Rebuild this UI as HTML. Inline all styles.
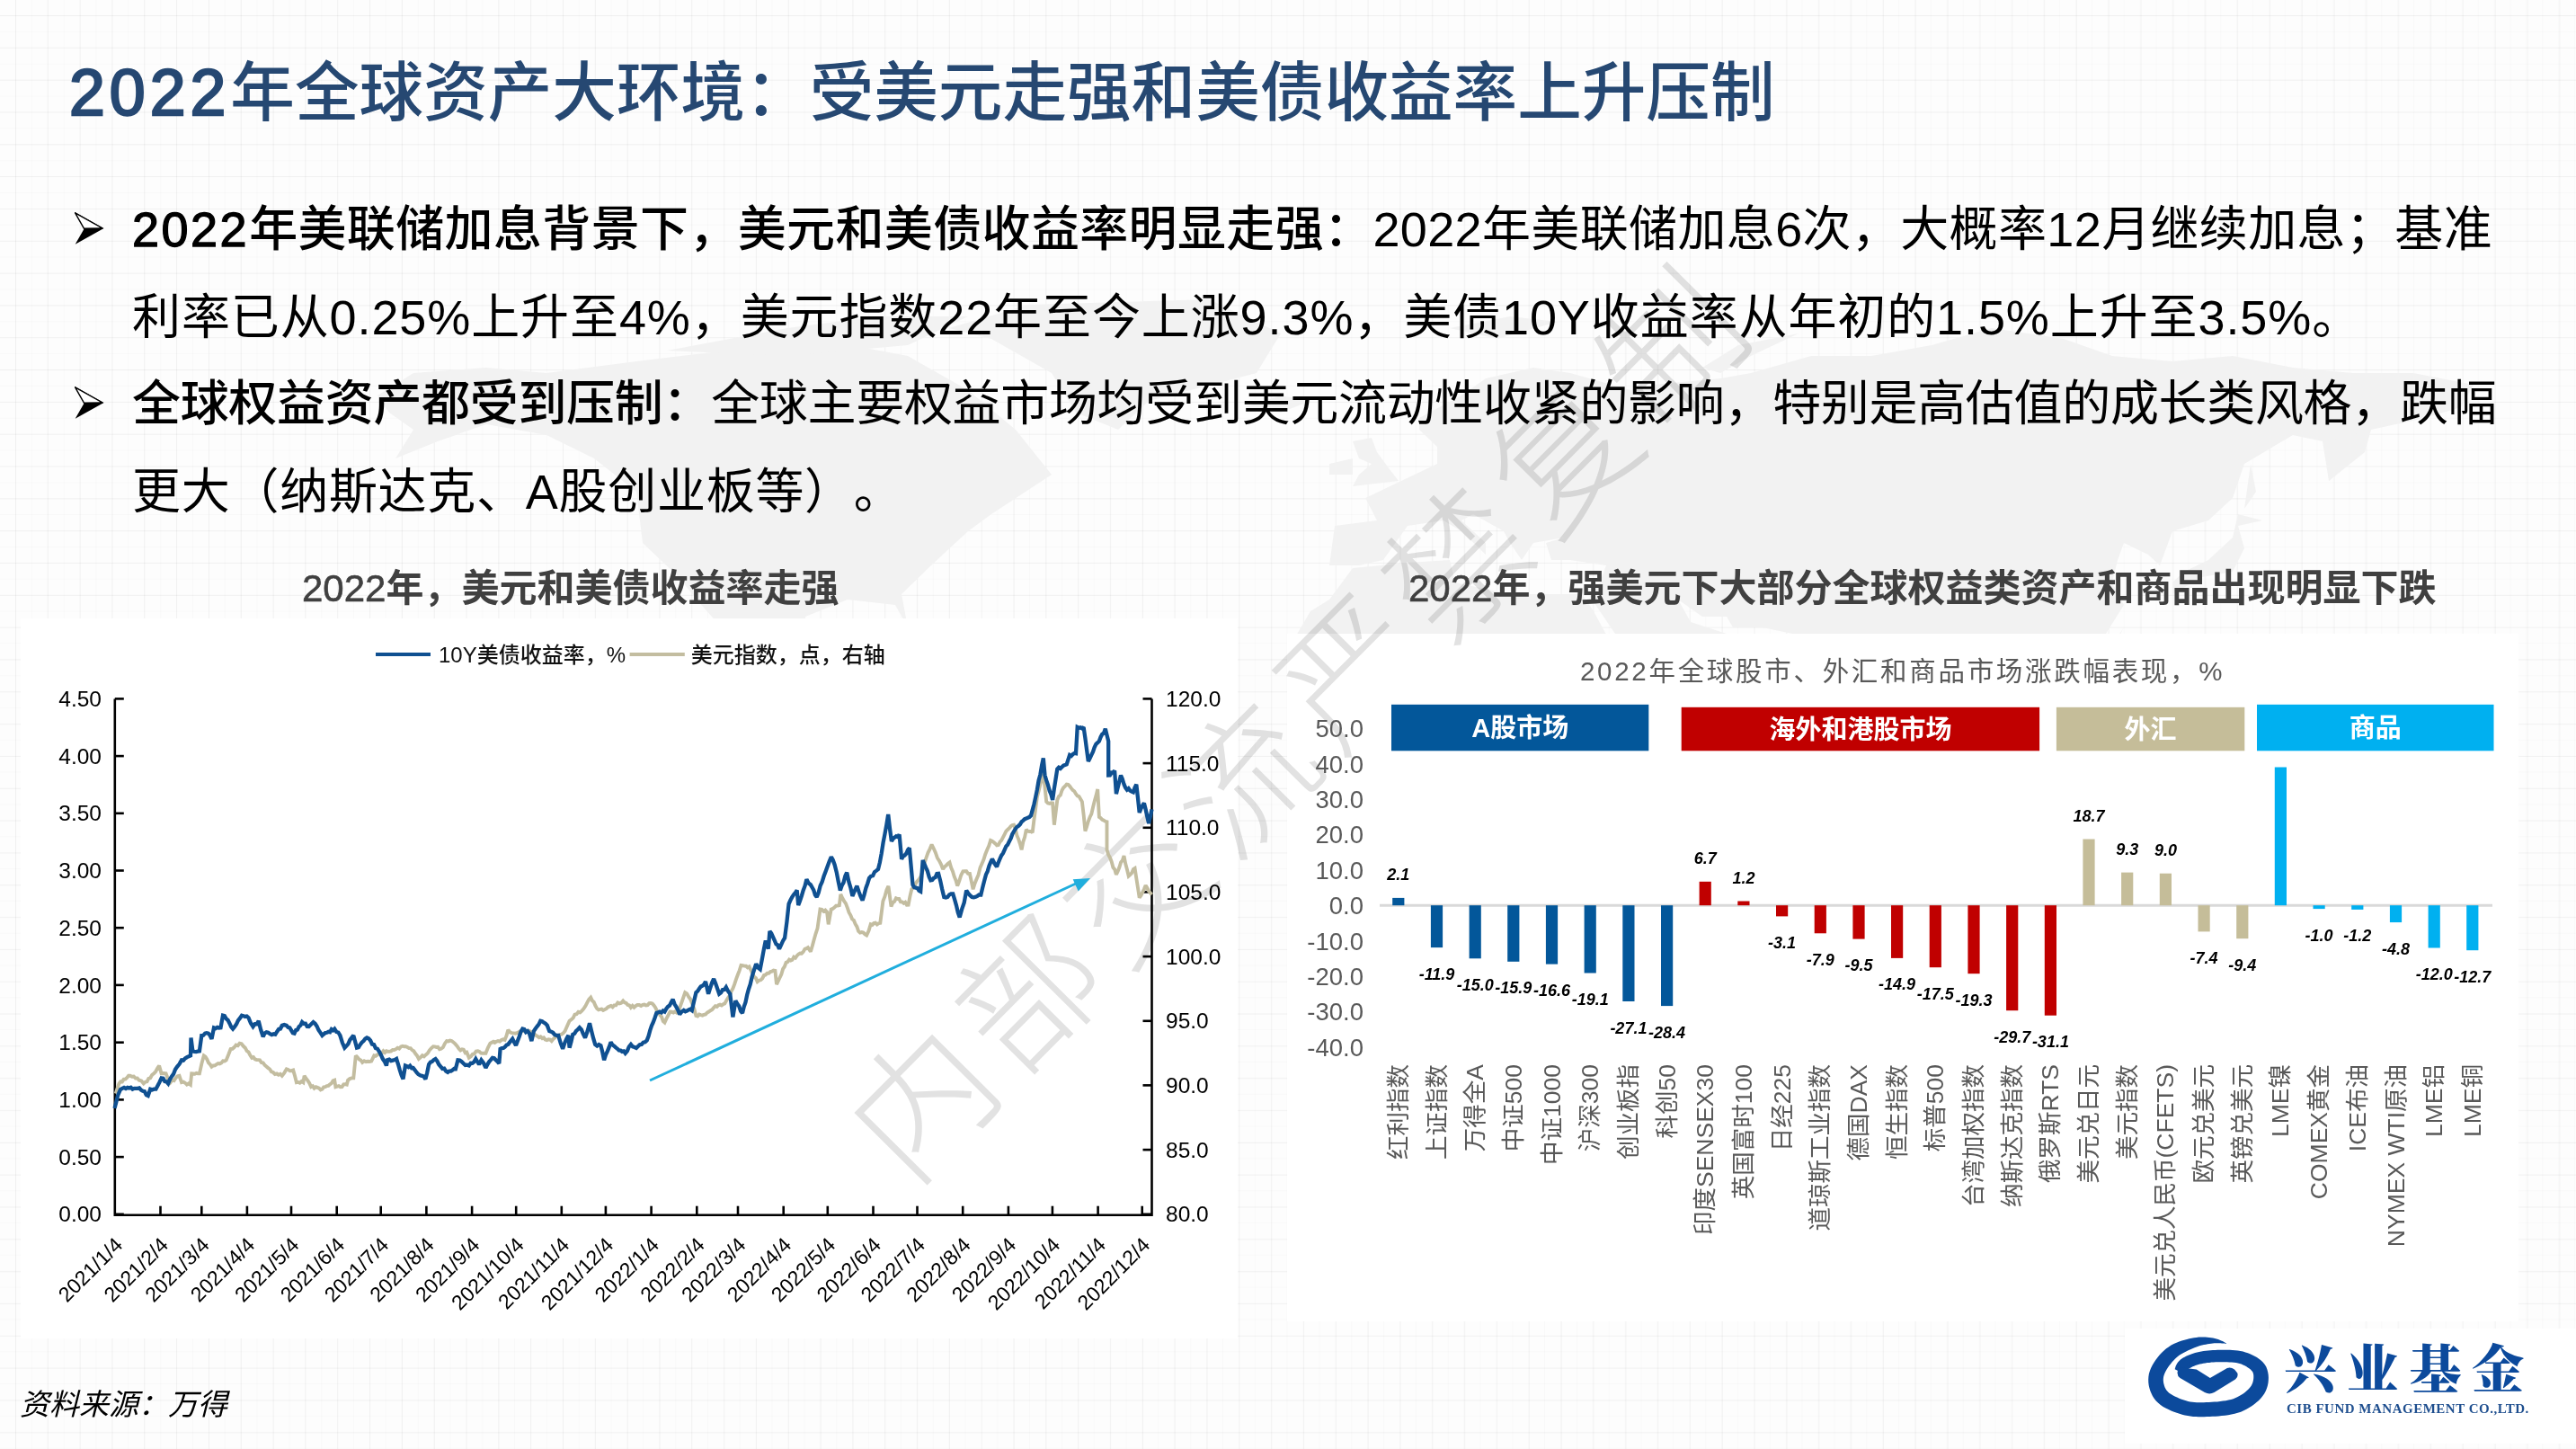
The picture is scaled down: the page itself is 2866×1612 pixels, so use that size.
<!DOCTYPE html>
<html lang="zh-CN"><head><meta charset="utf-8"><title>2022年全球资产大环境</title>
<style>
html,body{margin:0;padding:0;}
body{width:2866px;height:1612px;overflow:hidden;position:relative;
 background-color:#fdfdfd;
 background-image:
  linear-gradient(to right, rgba(0,0,0,0.035) 1px, transparent 1px),
  linear-gradient(to bottom, rgba(0,0,0,0.035) 1px, transparent 1px),
  linear-gradient(to right, rgba(0,0,0,0.015) 1px, transparent 1px),
  linear-gradient(to bottom, rgba(0,0,0,0.015) 1px, transparent 1px);
 background-size:35.83px 35.83px,35.83px 35.83px,17.915px 17.915px,17.915px 17.915px;
 background-position:17px 17px,17px 17px,17px 17px,17px 17px;
 font-family:"Liberation Sans","Noto Sans CJK SC",sans-serif;}
.abs{position:absolute;white-space:nowrap;}
#map{position:absolute;left:0;top:0;}
.panel{position:absolute;background:#fff;}
#title{left:77px;top:55px;font-size:71.6px;line-height:96px;color:#264872;font-weight:500;}
#title .d{font-weight:400;letter-spacing:5px;-webkit-text-stroke:2.4px #264872;}
body{text-spacing-trim:space-all;}
.bl{font-size:54px;line-height:70px;color:#000;left:147px;}
.bl .d{letter-spacing:2.5px;}
.bl b{font-weight:500;}
.bl b .d{font-weight:400;-webkit-text-stroke:1.3px #000;}
.arrow{position:absolute;}
.ctitle{font-size:42px;line-height:50px;color:#404040;font-weight:700;}
.ctitle .d{font-weight:400;-webkit-text-stroke:0.6px #404040;}
svg text{font-family:"Liberation Sans","Noto Sans CJK SC",sans-serif;}
.ax{font-size:24.5px;fill:#000;}
.dx{font-size:23px;fill:#000;}
.lg{font-size:24px;fill:#111;font-weight:500;}
.vl{font-size:18px;fill:#000;font-weight:700;font-style:italic;}
.ct{font-size:26.5px;fill:#595959;}
.ry{font-size:27.5px;fill:#595959;}
.bx{font-size:29px;fill:#fff;font-weight:700;}
.sb{font-size:29.5px;fill:#595959;letter-spacing:2.7px;}
#wm{position:absolute;left:0;top:0;mix-blend-mode:multiply;}
#src{left:22px;top:1543px;font-size:33px;line-height:40px;font-style:italic;color:#000;}
</style></head>
<body>
<svg id="map" width="2866" height="1612" viewBox="0 0 2866 1612"><g fill="#f2f2f2"><path d="M420,440 L460,415 L541,409 L608,415 L708,402 L809,390 L909,377 L1010,396 L1077,434 L1130,478 L1170,528 L1103,572 L1077,591 L1036,629 L1003,661 L1010,698 L996,673 L943,667 L896,686 L896,730 L929,743 L956,755 L990,793 L1023,806 L996,806 L969,780 L929,762 L842,730 L809,705 L775,667 L755,642 L715,604 L708,547 L661,510 L608,484 L541,472 L487,491 L440,510 L460,478 L433,459 L420,440 Z"/><path d="M1056,365 L1144,339 L1345,333 L1425,371 L1398,415 L1278,446 L1244,478 L1197,459 L1170,415 L1103,377 L1056,365 Z"/><path d="M742,390 L876,365 L976,352 L1077,352 L1010,384 L876,396 L742,390 Z"/><path d="M1010,793 L1063,780 L1130,787 L1197,824 L1211,856 L1251,869 L1311,894 L1291,938 L1278,995 L1224,1020 L1190,1064 L1157,1095 L1124,1108 L1110,1140 L1090,1184 L1063,1196 L1050,1158 L1056,1108 L1070,1045 L1077,969 L1036,944 L1003,894 L1010,850 L1023,812 L1010,793 Z"/><path d="M1479,629 L1485,585 L1532,579 L1519,554 L1559,535 L1599,516 L1599,497 L1579,478 L1579,465 L1626,440 L1653,421 L1706,409 L1747,415 L1814,434 L1840,428 L1914,421 L1948,415 L2015,396 L2082,396 L2149,384 L2216,365 L2296,377 L2350,396 L2417,402 L2484,396 L2551,409 L2618,415 L2685,415 L2752,428 L2738,453 L2698,465 L2638,478 L2618,510 L2591,535 L2584,491 L2551,484 L2497,516 L2484,554 L2457,579 L2417,591 L2403,629 L2390,617 L2363,604 L2356,623 L2350,648 L2363,673 L2343,705 L2309,717 L2269,724 L2256,743 L2276,780 L2249,799 L2236,850 L2222,837 L2209,793 L2202,755 L2182,755 L2162,724 L2135,717 L2115,730 L2082,762 L2062,806 L2041,762 L2028,724 L1994,705 L1961,698 L1928,698 L1921,686 L1894,686 L1867,667 L1881,692 L1921,705 L1941,717 L1914,749 L1894,755 L1847,774 L1834,762 L1814,730 L1780,680 L1767,661 L1780,648 L1787,629 L1747,623 L1726,623 L1720,604 L1740,598 L1706,604 L1693,623 L1680,604 L1673,591 L1639,572 L1626,579 L1653,604 L1653,617 L1626,591 L1606,579 L1566,585 L1539,623 L1512,629 L1479,629 Z"/><path d="M1432,724 L1458,680 L1479,667 L1505,632 L1566,626 L1613,623 L1619,648 L1680,661 L1747,661 L1760,661 L1773,680 L1800,730 L1834,780 L1887,780 L1867,824 L1827,869 L1814,919 L1814,957 L1780,995 L1767,1026 L1726,1064 L1680,1076 L1666,1058 L1639,1001 L1626,963 L1633,906 L1606,862 L1606,831 L1572,818 L1519,824 L1492,831 L1458,806 L1432,768 L1432,724 Z"/><path d="M2309,995 L2336,982 L2363,963 L2390,944 L2423,925 L2464,932 L2457,950 L2490,963 L2497,925 L2524,969 L2551,995 L2571,1020 L2571,1058 L2551,1089 L2524,1102 L2490,1095 L2470,1076 L2430,1058 L2376,1070 L2330,1076 L2316,1070 L2309,995 Z"/><path d="M1505,541 L1556,535 L1546,522 L1532,503 L1526,487 L1505,491 L1512,510 L1526,516 L1512,528 L1505,541 Z"/><path d="M1479,528 L1505,528 L1505,510 L1479,516 Z"/><path d="M2417,661 L2450,642 L2484,636 L2497,610 L2490,585 L2517,579 L2490,572 L2484,598 L2457,623 L2430,636 L2417,648 Z"/><path d="M2182,824 L2202,831 L2256,875 L2256,894 L2222,875 L2182,824 Z"/><path d="M2256,894 L2309,906 L2316,910 L2269,906 Z"/><path d="M2276,843 L2323,812 L2343,824 L2330,850 L2323,881 L2283,875 L2276,843 Z"/><path d="M2423,862 L2490,875 L2551,894 L2530,919 L2490,913 L2464,888 L2423,862 Z"/><path d="M1840,1014 L1834,982 L1874,932 L1881,957 L1860,1014 Z"/><path d="M2350,743 L2363,743 L2390,812 L2376,818 L2356,774 Z"/><path d="M2082,818 L2088,806 L2082,796 Z"/><path d="M2698,1070 L2738,1095 L2718,1114 L2691,1133 L2664,1146 L2705,1114 Z"/><path d="M1385,453 L1425,440 L1458,446 L1425,459 Z"/><path d="M1613,365 L1680,352 L1733,358 L1666,377 Z"/><path d="M1894,409 L1934,384 L2001,371 L1948,396 L1914,415 Z"/><path d="M2591,535 L2631,503 L2638,478 L2591,491 Z"/><path d="M2497,566 L2504,516 L2510,547 Z"/><path d="M2350,717 L2363,698 L2356,711 Z"/><path d="M2273,739 L2289,730 L2283,743 Z"/></g></svg>
<div class="panel" style="left:23px;top:688px;width:1354px;height:801px;"></div>
<div class="panel" style="left:1432px;top:705px;width:1370px;height:765px;"></div>
<svg id="wm" width="2866" height="1612" viewBox="0 0 2866 1612">
<text transform="translate(973.9,1284) rotate(-45.2)" font-size="155" font-weight="300" fill="#e2e2e2" dominant-baseline="central" letter-spacing="13.9" style='font-family:"Liberation Sans","Noto Sans CJK SC",sans-serif'>内部交流严禁复制</text>
</svg>

<div id="title" class="abs"><span class="d">2022</span>年全球资产大环境：受美元走强和美债收益率上升压制</div>

<svg class="arrow" style="left:80px;top:234px" width="40" height="40" viewBox="0 0 40 40"><path d="M2.8,1.8 L35.5,20 L3.7,37.8 L13.6,20.6 Z" fill="#000"/><path d="M3.6,2.8 L34,20 L13.4,20.2 Z" fill="#fff" stroke="#000" stroke-width="1.4" stroke-linejoin="round"/></svg>
<svg class="arrow" style="left:80px;top:428px" width="40" height="40" viewBox="0 0 40 40"><path d="M2.8,1.8 L35.5,20 L3.7,37.8 L13.6,20.6 Z" fill="#000"/><path d="M3.6,2.8 L34,20 L13.4,20.2 Z" fill="#fff" stroke="#000" stroke-width="1.4" stroke-linejoin="round"/></svg>

<div id="l1" class="abs bl" style="top:220px;letter-spacing:0.36px"><b><span class="d">2022</span>年美联储加息背景下，美元和美债收益率明显走强：</b>2022年美联储加息6次，大概率12月继续加息；基准</div>
<div id="l2" class="abs bl" style="top:318px;letter-spacing:0.9px">利率已从0.25%上升至4%，美元指数22年至今上涨9.3%，美债10Y收益率从年初的1.5%上升至3.5%。</div>
<div id="l3" class="abs bl" style="top:414px;letter-spacing:-0.32px"><b>全球权益资产都受到压制：</b>全球主要权益市场均受到美元流动性收紧的影响，特别是高估值的成长类风格，跌幅</div>
<div id="l4" class="abs bl" style="top:512px;letter-spacing:0.72px">更大（纳斯达克、A股创业板等）。</div>

<div id="ct1" class="abs ctitle" style="left:336px;top:630px"><span class="d">2022</span>年，美元和美债收益率走强</div>
<div id="ct2" class="abs ctitle" style="left:1567px;top:630px"><span class="d">2022</span>年，强美元下大部分全球权益类资产和商品出现明显下跌</div>

<svg id="charts" style="position:absolute;left:0;top:0" width="2866" height="1612" viewBox="0 0 2866 1612">
<path d="M127.8,777.4 V1351.7 H1281.5 V777.4" fill="none" stroke="#000" stroke-width="2.6"/>
<line x1="127.8" y1="1350.8" x2="137.8" y2="1350.8" stroke="#000" stroke-width="2.6"/>
<text x="113" y="1359.4" text-anchor="end" class="ax">0.00</text>
<line x1="127.8" y1="1287.1" x2="137.8" y2="1287.1" stroke="#000" stroke-width="2.6"/>
<text x="113" y="1295.7" text-anchor="end" class="ax">0.50</text>
<line x1="127.8" y1="1223.4" x2="137.8" y2="1223.4" stroke="#000" stroke-width="2.6"/>
<text x="113" y="1232.0" text-anchor="end" class="ax">1.00</text>
<line x1="127.8" y1="1159.7" x2="137.8" y2="1159.7" stroke="#000" stroke-width="2.6"/>
<text x="113" y="1168.3" text-anchor="end" class="ax">1.50</text>
<line x1="127.8" y1="1095.9" x2="137.8" y2="1095.9" stroke="#000" stroke-width="2.6"/>
<text x="113" y="1104.5" text-anchor="end" class="ax">2.00</text>
<line x1="127.8" y1="1032.2" x2="137.8" y2="1032.2" stroke="#000" stroke-width="2.6"/>
<text x="113" y="1040.8" text-anchor="end" class="ax">2.50</text>
<line x1="127.8" y1="968.5" x2="137.8" y2="968.5" stroke="#000" stroke-width="2.6"/>
<text x="113" y="977.1" text-anchor="end" class="ax">3.00</text>
<line x1="127.8" y1="904.8" x2="137.8" y2="904.8" stroke="#000" stroke-width="2.6"/>
<text x="113" y="913.4" text-anchor="end" class="ax">3.50</text>
<line x1="127.8" y1="841.1" x2="137.8" y2="841.1" stroke="#000" stroke-width="2.6"/>
<text x="113" y="849.7" text-anchor="end" class="ax">4.00</text>
<line x1="127.8" y1="777.4" x2="137.8" y2="777.4" stroke="#000" stroke-width="2.6"/>
<text x="113" y="786.0" text-anchor="end" class="ax">4.50</text>
<line x1="1281.5" y1="1350.8" x2="1271.5" y2="1350.8" stroke="#000" stroke-width="2.6"/>
<text x="1297" y="1359.4" class="ax">80.0</text>
<line x1="1281.5" y1="1279.1" x2="1271.5" y2="1279.1" stroke="#000" stroke-width="2.6"/>
<text x="1297" y="1287.7" class="ax">85.0</text>
<line x1="1281.5" y1="1207.4" x2="1271.5" y2="1207.4" stroke="#000" stroke-width="2.6"/>
<text x="1297" y="1216.0" class="ax">90.0</text>
<line x1="1281.5" y1="1135.8" x2="1271.5" y2="1135.8" stroke="#000" stroke-width="2.6"/>
<text x="1297" y="1144.4" class="ax">95.0</text>
<line x1="1281.5" y1="1064.1" x2="1271.5" y2="1064.1" stroke="#000" stroke-width="2.6"/>
<text x="1297" y="1072.7" class="ax">100.0</text>
<line x1="1281.5" y1="992.4" x2="1271.5" y2="992.4" stroke="#000" stroke-width="2.6"/>
<text x="1297" y="1001.0" class="ax">105.0</text>
<line x1="1281.5" y1="920.8" x2="1271.5" y2="920.8" stroke="#000" stroke-width="2.6"/>
<text x="1297" y="929.4" class="ax">110.0</text>
<line x1="1281.5" y1="849.1" x2="1271.5" y2="849.1" stroke="#000" stroke-width="2.6"/>
<text x="1297" y="857.7" class="ax">115.0</text>
<line x1="1281.5" y1="777.4" x2="1271.5" y2="777.4" stroke="#000" stroke-width="2.6"/>
<text x="1297" y="786.0" class="ax">120.0</text>
<text transform="translate(137.8,1386.5) rotate(-45)" text-anchor="end" class="dx">2021/1/4</text>
<line x1="178.5" y1="1351.7" x2="178.5" y2="1341.7" stroke="#000" stroke-width="2.6"/>
<text transform="translate(188.5,1386.5) rotate(-45)" text-anchor="end" class="dx">2021/2/4</text>
<line x1="224.3" y1="1351.7" x2="224.3" y2="1341.7" stroke="#000" stroke-width="2.6"/>
<text transform="translate(234.3,1386.5) rotate(-45)" text-anchor="end" class="dx">2021/3/4</text>
<line x1="274.9" y1="1351.7" x2="274.9" y2="1341.7" stroke="#000" stroke-width="2.6"/>
<text transform="translate(284.9,1386.5) rotate(-45)" text-anchor="end" class="dx">2021/4/4</text>
<line x1="324.0" y1="1351.7" x2="324.0" y2="1341.7" stroke="#000" stroke-width="2.6"/>
<text transform="translate(334.0,1386.5) rotate(-45)" text-anchor="end" class="dx">2021/5/4</text>
<line x1="374.7" y1="1351.7" x2="374.7" y2="1341.7" stroke="#000" stroke-width="2.6"/>
<text transform="translate(384.7,1386.5) rotate(-45)" text-anchor="end" class="dx">2021/6/4</text>
<line x1="423.7" y1="1351.7" x2="423.7" y2="1341.7" stroke="#000" stroke-width="2.6"/>
<text transform="translate(433.7,1386.5) rotate(-45)" text-anchor="end" class="dx">2021/7/4</text>
<line x1="474.4" y1="1351.7" x2="474.4" y2="1341.7" stroke="#000" stroke-width="2.6"/>
<text transform="translate(484.4,1386.5) rotate(-45)" text-anchor="end" class="dx">2021/8/4</text>
<line x1="525.1" y1="1351.7" x2="525.1" y2="1341.7" stroke="#000" stroke-width="2.6"/>
<text transform="translate(535.1,1386.5) rotate(-45)" text-anchor="end" class="dx">2021/9/4</text>
<line x1="574.2" y1="1351.7" x2="574.2" y2="1341.7" stroke="#000" stroke-width="2.6"/>
<text transform="translate(584.2,1386.5) rotate(-45)" text-anchor="end" class="dx">2021/10/4</text>
<line x1="624.8" y1="1351.7" x2="624.8" y2="1341.7" stroke="#000" stroke-width="2.6"/>
<text transform="translate(634.8,1386.5) rotate(-45)" text-anchor="end" class="dx">2021/11/4</text>
<line x1="673.9" y1="1351.7" x2="673.9" y2="1341.7" stroke="#000" stroke-width="2.6"/>
<text transform="translate(683.9,1386.5) rotate(-45)" text-anchor="end" class="dx">2021/12/4</text>
<line x1="724.6" y1="1351.7" x2="724.6" y2="1341.7" stroke="#000" stroke-width="2.6"/>
<text transform="translate(734.6,1386.5) rotate(-45)" text-anchor="end" class="dx">2022/1/4</text>
<line x1="775.3" y1="1351.7" x2="775.3" y2="1341.7" stroke="#000" stroke-width="2.6"/>
<text transform="translate(785.3,1386.5) rotate(-45)" text-anchor="end" class="dx">2022/2/4</text>
<line x1="821.0" y1="1351.7" x2="821.0" y2="1341.7" stroke="#000" stroke-width="2.6"/>
<text transform="translate(831.0,1386.5) rotate(-45)" text-anchor="end" class="dx">2022/3/4</text>
<line x1="871.7" y1="1351.7" x2="871.7" y2="1341.7" stroke="#000" stroke-width="2.6"/>
<text transform="translate(881.7,1386.5) rotate(-45)" text-anchor="end" class="dx">2022/4/4</text>
<line x1="920.8" y1="1351.7" x2="920.8" y2="1341.7" stroke="#000" stroke-width="2.6"/>
<text transform="translate(930.8,1386.5) rotate(-45)" text-anchor="end" class="dx">2022/5/4</text>
<line x1="971.5" y1="1351.7" x2="971.5" y2="1341.7" stroke="#000" stroke-width="2.6"/>
<text transform="translate(981.5,1386.5) rotate(-45)" text-anchor="end" class="dx">2022/6/4</text>
<line x1="1020.5" y1="1351.7" x2="1020.5" y2="1341.7" stroke="#000" stroke-width="2.6"/>
<text transform="translate(1030.5,1386.5) rotate(-45)" text-anchor="end" class="dx">2022/7/4</text>
<line x1="1071.2" y1="1351.7" x2="1071.2" y2="1341.7" stroke="#000" stroke-width="2.6"/>
<text transform="translate(1081.2,1386.5) rotate(-45)" text-anchor="end" class="dx">2022/8/4</text>
<line x1="1121.9" y1="1351.7" x2="1121.9" y2="1341.7" stroke="#000" stroke-width="2.6"/>
<text transform="translate(1131.9,1386.5) rotate(-45)" text-anchor="end" class="dx">2022/9/4</text>
<line x1="1170.9" y1="1351.7" x2="1170.9" y2="1341.7" stroke="#000" stroke-width="2.6"/>
<text transform="translate(1180.9,1386.5) rotate(-45)" text-anchor="end" class="dx">2022/10/4</text>
<line x1="1221.6" y1="1351.7" x2="1221.6" y2="1341.7" stroke="#000" stroke-width="2.6"/>
<text transform="translate(1231.6,1386.5) rotate(-45)" text-anchor="end" class="dx">2022/11/4</text>
<line x1="1270.7" y1="1351.7" x2="1270.7" y2="1341.7" stroke="#000" stroke-width="2.6"/>
<text transform="translate(1280.7,1386.5) rotate(-45)" text-anchor="end" class="dx">2022/12/4</text>
<path d="M128.7,1216.6 L130.6,1210.6 L132.4,1205.5 L134.2,1203.3 L135.9,1203.4 L137.7,1200.6 L139.5,1200.6 L141.3,1198.9 L143.0,1196.8 L144.8,1196.8 L146.8,1197.8 L148.8,1197.5 L150.8,1199.6 L152.8,1199.5 L154.8,1201.7 L157.3,1202.5 L159.8,1205.5 L161.7,1203.7 L163.5,1203.3 L165.3,1199.8 L167.2,1199.3 L169.2,1195.8 L171.2,1194.2 L173.1,1192.3 L175.1,1188.6 L177.1,1185.6 L179.6,1194.3 L182.1,1194.0 L184.6,1194.3 L187.1,1200.6 L189.6,1204.2 L191.6,1201.5 L193.6,1202.2 L195.5,1199.2 L197.5,1197.3 L199.5,1196.8 L202.0,1204.2 L204.0,1203.6 L206.0,1204.7 L207.9,1206.6 L209.9,1205.3 L211.9,1206.7 L213.2,1194.3 L214.9,1194.5 L216.7,1194.7 L218.4,1193.9 L220.2,1194.4 L221.9,1194.3 L224.4,1183.1 L226.8,1174.4 L228.5,1175.6 L230.3,1178.5 L232.0,1182.3 L233.8,1184.1 L235.5,1186.8 L237.3,1185.5 L239.1,1185.4 L240.9,1184.2 L242.7,1183.0 L244.5,1183.5 L246.3,1182.4 L248.1,1180.3 L249.9,1180.4 L251.7,1179.4 L254.2,1173.3 L256.6,1167.0 L258.6,1166.8 L260.6,1165.1 L262.6,1162.6 L264.6,1163.3 L266.6,1160.7 L268.7,1161.3 L270.7,1163.8 L272.8,1165.7 L274.6,1169.2 L276.5,1170.3 L278.4,1174.1 L280.2,1176.9 L282.0,1176.1 L283.7,1178.4 L285.5,1179.1 L287.2,1179.1 L289.0,1179.4 L290.9,1182.2 L292.7,1182.3 L294.6,1185.0 L296.4,1186.5 L298.3,1188.1 L300.2,1189.5 L302.0,1192.3 L303.9,1193.0 L305.9,1195.0 L307.9,1194.4 L309.8,1195.7 L311.8,1194.8 L313.8,1196.8 L316.3,1193.6 L318.8,1189.3 L320.6,1190.0 L322.5,1191.3 L324.4,1191.2 L326.2,1190.6 L328.0,1196.8 L329.9,1204.2 L331.8,1203.9 L333.6,1204.7 L335.5,1202.9 L337.4,1204.2 L338.6,1196.8 L340.5,1199.8 L342.4,1202.1 L344.2,1205.0 L346.1,1209.2 L347.9,1208.3 L349.6,1210.7 L351.4,1209.2 L353.2,1209.9 L355.0,1210.7 L356.7,1212.4 L358.5,1211.7 L360.2,1209.3 L361.9,1209.1 L363.6,1208.1 L365.4,1207.8 L367.1,1206.3 L368.8,1205.2 L370.5,1202.3 L372.2,1201.7 L373.4,1209.2 L375.2,1208.6 L376.9,1208.1 L378.7,1209.2 L380.5,1209.1 L382.3,1206.4 L384.0,1206.2 L385.8,1206.7 L387.1,1201.7 L389.2,1200.1 L391.2,1199.4 L393.3,1199.3 L395.8,1174.4 L397.6,1176.2 L399.5,1178.4 L401.4,1179.4 L403.2,1181.9 L405.2,1180.3 L407.2,1181.2 L409.2,1180.8 L411.2,1181.0 L413.2,1180.6 L416.2,1174.3 L417.9,1174.9 L419.6,1173.6 L421.3,1172.5 L423.0,1172.1 L424.8,1171.7 L426.5,1169.3 L428.2,1171.0 L429.9,1169.3 L431.6,1169.8 L433.4,1169.9 L435.1,1169.4 L436.9,1168.0 L438.6,1168.1 L440.5,1167.2 L442.3,1165.7 L444.2,1166.6 L446.1,1164.3 L447.9,1163.7 L449.8,1164.3 L451.5,1164.2 L453.2,1164.9 L455.0,1166.1 L456.7,1166.1 L458.4,1168.1 L460.3,1169.2 L462.1,1172.1 L464.0,1174.4 L465.9,1178.0 L467.9,1176.4 L469.9,1174.2 L471.8,1175.3 L473.8,1173.4 L475.8,1171.8 L477.9,1168.3 L479.9,1166.1 L482.0,1164.3 L483.7,1164.4 L485.5,1164.9 L487.2,1164.7 L489.0,1167.3 L490.7,1166.8 L492.8,1165.3 L494.9,1160.9 L497.0,1158.1 L498.9,1158.4 L500.7,1157.6 L502.5,1158.0 L504.4,1159.4 L506.5,1161.4 L508.5,1163.7 L510.6,1166.8 L512.3,1168.5 L514.1,1167.4 L515.8,1167.7 L517.6,1171.1 L519.3,1170.6 L521.8,1176.8 L523.8,1175.4 L525.8,1172.8 L527.7,1172.4 L529.7,1169.5 L531.7,1169.3 L533.4,1169.9 L535.2,1171.6 L536.9,1171.8 L538.7,1171.8 L540.4,1171.8 L542.9,1165.5 L545.4,1160.6 L547.1,1159.7 L548.9,1158.7 L550.6,1159.9 L552.4,1158.7 L554.1,1158.1 L556.0,1158.6 L557.9,1157.0 L559.7,1156.4 L561.6,1156.9 L563.5,1152.2 L565.3,1145.7 L567.4,1148.3 L569.4,1149.2 L571.5,1149.4 L573.4,1149.7 L575.2,1149.1 L577.1,1148.3 L579.0,1147.0 L580.9,1146.2 L582.7,1147.0 L584.5,1146.6 L586.4,1147.0 L588.4,1146.7 L590.4,1147.6 L592.3,1149.3 L594.3,1150.2 L596.3,1151.9 L598.0,1152.9 L599.8,1154.2 L601.5,1153.3 L603.3,1155.1 L605.0,1154.4 L606.7,1156.5 L608.5,1157.2 L610.2,1156.2 L612.0,1156.6 L613.7,1158.1 L615.6,1155.8 L617.5,1154.2 L619.3,1152.6 L621.2,1151.9 L623.1,1151.0 L624.9,1150.6 L626.8,1149.2 L628.6,1147.0 L631.1,1141.3 L633.6,1135.8 L635.6,1134.2 L637.6,1132.6 L639.5,1128.6 L641.5,1128.2 L643.5,1125.8 L645.4,1126.3 L647.3,1124.6 L649.3,1122.4 L651.3,1119.3 L653.2,1115.6 L655.2,1111.8 L657.2,1109.7 L658.9,1113.2 L660.7,1114.7 L662.4,1118.8 L664.2,1122.0 L665.9,1123.4 L667.6,1122.8 L669.4,1122.6 L671.1,1123.9 L672.9,1123.0 L674.6,1122.1 L676.3,1120.4 L678.1,1119.6 L679.8,1118.9 L681.6,1120.3 L683.3,1118.4 L685.3,1118.3 L687.3,1115.4 L689.2,1116.3 L691.2,1115.7 L693.2,1113.4 L694.9,1115.3 L696.7,1116.0 L698.4,1118.0 L700.2,1118.4 L701.9,1120.9 L703.7,1118.8 L705.5,1120.7 L707.3,1119.1 L709.1,1117.9 L711.1,1118.0 L713.2,1119.1 L715.2,1117.9 L717.0,1117.5 L718.7,1118.4 L720.5,1118.1 L722.3,1116.1 L724.0,1116.0 L725.8,1116.4 L727.5,1118.5 L729.2,1121.0 L730.9,1124.6 L732.6,1126.3 L734.4,1129.4 L736.1,1131.3 L737.8,1136.1 L739.5,1137.6 L741.5,1133.2 L743.5,1129.4 L745.5,1125.5 L747.3,1125.7 L749.2,1126.6 L751.0,1125.3 L752.9,1126.7 L754.7,1125.5 L756.6,1120.2 L758.5,1114.9 L760.3,1109.6 L762.2,1104.2 L764.2,1105.4 L766.3,1109.1 L768.3,1111.8 L770.3,1117.0 L772.4,1122.5 L774.4,1130.0 L776.2,1130.6 L777.9,1128.6 L779.7,1129.2 L781.5,1129.6 L783.2,1128.9 L785.0,1128.5 L786.8,1126.5 L788.6,1125.6 L790.5,1124.2 L792.3,1123.3 L794.1,1121.0 L795.8,1119.2 L797.6,1119.9 L799.3,1118.3 L801.1,1117.7 L802.8,1118.5 L804.6,1117.1 L806.3,1116.4 L808.1,1113.2 L809.9,1110.4 L811.8,1107.5 L813.6,1102.9 L815.4,1099.7 L817.2,1094.9 L819.0,1089.4 L820.9,1084.3 L822.7,1079.6 L824.5,1073.9 L826.3,1074.1 L828.1,1074.6 L830.0,1074.7 L831.8,1076.3 L833.6,1075.4 L835.4,1079.3 L837.2,1083.1 L839.1,1086.7 L840.9,1088.1 L842.7,1092.1 L844.5,1090.7 L846.3,1090.3 L848.2,1088.5 L850.0,1085.0 L851.8,1084.5 L853.6,1082.7 L855.3,1082.8 L857.1,1081.0 L858.9,1080.7 L860.6,1079.5 L862.4,1079.9 L864.0,1095.1 L865.8,1091.5 L867.5,1087.8 L869.3,1084.1 L871.1,1077.9 L872.8,1075.5 L874.6,1070.8 L876.3,1070.2 L878.1,1067.6 L879.8,1068.6 L881.5,1067.8 L883.2,1064.6 L885.0,1065.6 L886.7,1063.2 L888.4,1061.6 L890.2,1060.6 L891.9,1060.7 L893.7,1058.9 L895.4,1055.8 L897.2,1055.2 L898.9,1054.1 L901.9,1058.7 L903.8,1052.3 L905.7,1045.3 L907.6,1038.5 L909.5,1032.9 L912.5,1011.6 L914.4,1011.9 L916.3,1013.8 L918.2,1012.6 L920.1,1014.7 L921.7,1028.3 L924.7,1011.6 L926.5,1010.9 L928.3,1009.6 L930.2,1007.6 L932.0,1007.5 L933.8,1007.1 L935.3,994.9 L937.2,999.0 L939.1,1002.5 L941.0,1005.1 L942.9,1010.1 L944.6,1015.1 L946.4,1018.3 L948.1,1022.5 L949.9,1023.7 L951.6,1027.9 L953.4,1030.9 L955.1,1035.9 L956.9,1037.6 L958.7,1037.1 L960.6,1037.6 L962.4,1039.4 L964.2,1040.5 L966.5,1035.6 L968.7,1028.3 L970.5,1028.9 L972.2,1027.1 L974.0,1026.6 L975.8,1028.5 L977.5,1027.2 L979.3,1026.8 L982.4,1002.5 L984.4,997.5 L986.4,990.2 L988.4,985.8 L991.5,1008.6 L993.3,1004.3 L995.1,1002.9 L996.9,999.3 L998.6,1000.0 L1000.3,1000.0 L1002.0,1003.3 L1003.8,1003.4 L1005.5,1004.8 L1007.2,1003.7 L1008.9,1006.8 L1010.6,1006.7 L1012.5,996.8 L1014.3,989.3 L1016.3,987.6 L1018.3,983.7 L1020.2,980.7 L1022.2,978.6 L1024.2,975.7 L1026.3,969.8 L1028.3,960.9 L1030.4,954.5 L1032.5,948.5 L1034.5,944.6 L1036.6,939.6 L1038.7,943.8 L1040.8,948.4 L1042.9,954.5 L1045.0,957.7 L1047.0,961.6 L1049.1,967.0 L1050.9,964.3 L1052.8,962.7 L1054.7,960.8 L1056.5,959.5 L1058.2,965.4 L1060.0,969.4 L1061.7,975.2 L1063.5,979.5 L1065.2,985.6 L1067.3,979.8 L1069.3,973.5 L1071.4,969.4 L1073.3,969.3 L1075.2,969.3 L1077.0,971.9 L1078.9,971.9 L1080.8,980.7 L1082.6,989.3 L1084.6,982.7 L1086.6,977.8 L1088.5,973.4 L1090.5,965.3 L1092.5,960.7 L1094.4,956.4 L1096.3,950.2 L1098.3,945.2 L1100.2,941.0 L1102.1,934.9 L1103.8,935.6 L1105.6,937.0 L1107.3,938.5 L1109.1,940.4 L1110.8,940.1 L1112.5,936.6 L1114.2,934.8 L1116.0,931.4 L1117.7,928.1 L1119.4,924.6 L1121.1,923.0 L1122.8,921.4 L1124.6,919.2 L1126.3,918.0 L1128.0,917.7 L1129.7,922.0 L1131.4,929.4 L1133.2,933.6 L1134.9,938.8 L1136.6,945.3 L1138.3,936.6 L1140.1,931.3 L1141.8,922.8 L1143.5,924.7 L1145.2,925.0 L1147.0,924.8 L1148.7,926.3 L1150.4,912.3 L1152.2,899.3 L1153.9,886.6 L1155.6,880.0 L1157.3,872.7 L1159.1,867.0 L1160.8,860.7 L1162.5,875.6 L1164.2,891.8 L1165.9,893.5 L1167.7,894.0 L1169.4,893.2 L1171.1,893.5 L1172.9,917.7 L1176.3,890.0 L1178.0,885.9 L1179.8,884.5 L1181.5,879.2 L1183.2,876.3 L1184.9,874.7 L1186.7,872.6 L1188.4,872.8 L1190.1,874.5 L1191.8,876.9 L1193.6,879.0 L1195.3,880.3 L1197.0,883.2 L1198.7,885.4 L1200.5,886.1 L1202.2,889.0 L1203.9,891.8 L1205.7,907.1 L1207.4,924.6 L1209.1,919.6 L1210.8,913.8 L1212.6,909.0 L1214.3,905.6 L1216.0,898.2 L1217.8,891.1 L1219.5,885.1 L1221.2,878.0 L1222.9,909.0 L1224.6,910.1 L1226.3,911.8 L1228.1,912.6 L1229.8,913.8 L1231.5,914.2 L1231.5,945.3 L1233.2,951.0 L1235.0,954.2 L1236.7,958.6 L1238.4,965.1 L1240.2,967.3 L1241.9,972.9 L1243.6,969.4 L1245.3,965.0 L1247.1,959.2 L1248.8,957.3 L1250.5,952.2 L1252.2,960.8 L1254.0,967.5 L1255.7,974.6 L1257.4,973.1 L1259.2,971.2 L1260.9,967.1 L1262.6,966.0 L1264.3,977.0 L1266.0,987.8 L1267.7,998.7 L1269.4,996.2 L1271.2,992.7 L1272.9,989.3 L1274.6,985.0 L1276.3,987.8 L1278.0,991.2 L1279.8,993.2 L1281.5,995.3" fill="none" stroke="#c3bda0" stroke-width="3.9" stroke-linejoin="miter" stroke-miterlimit="2"/>
<path d="M127.5,1233.0 L129.2,1226.5 L131.0,1219.0 L134.0,1212.0 L136.0,1210.9 L138.0,1210.0 L140.0,1211.0 L141.9,1209.9 L143.8,1210.5 L145.6,1209.7 L147.5,1211.6 L149.4,1210.8 L151.2,1210.9 L153.1,1210.8 L155.0,1210.4 L156.9,1212.6 L158.9,1213.8 L160.8,1214.2 L162.8,1218.1 L164.7,1219.0 L167.2,1211.7 L169.3,1212.4 L171.3,1211.7 L173.4,1211.7 L175.5,1207.7 L177.5,1203.9 L179.6,1199.3 L181.5,1199.6 L183.3,1203.1 L185.2,1203.3 L187.1,1205.5 L189.1,1200.6 L191.1,1197.4 L193.0,1194.9 L195.0,1189.7 L197.0,1186.8 L199.5,1183.8 L202.0,1179.4 L204.0,1179.7 L206.0,1177.4 L208.0,1176.1 L210.0,1175.3 L212.0,1174.4 L212.5,1154.5 L214.4,1169.4 L216.3,1169.9 L218.2,1170.1 L220.0,1169.7 L221.9,1169.4 L224.3,1152.0 L226.2,1151.8 L228.1,1149.6 L229.9,1149.2 L231.8,1149.6 L233.7,1152.0 L235.5,1155.8 L238.0,1143.4 L239.9,1144.1 L241.8,1142.9 L243.6,1143.6 L245.5,1143.4 L248.0,1129.7 L249.8,1130.2 L251.7,1133.4 L253.6,1135.0 L255.4,1138.4 L257.2,1142.3 L259.1,1144.6 L261.1,1142.2 L263.1,1139.1 L265.0,1135.1 L267.0,1132.7 L269.0,1129.7 L270.9,1130.2 L272.8,1130.9 L274.6,1130.5 L276.5,1132.2 L279.0,1138.3 L281.5,1142.1 L283.6,1139.2 L285.6,1139.3 L287.7,1135.9 L290.2,1145.8 L292.7,1153.3 L294.5,1149.4 L296.4,1148.3 L298.4,1148.7 L300.4,1150.2 L302.3,1151.1 L304.3,1150.2 L306.3,1150.8 L308.2,1147.7 L310.1,1145.0 L311.9,1144.6 L313.8,1140.9 L316.3,1140.1 L318.8,1140.9 L320.5,1142.9 L322.3,1143.4 L324.0,1146.2 L325.8,1149.1 L327.5,1149.6 L329.2,1146.1 L330.9,1145.5 L332.7,1142.1 L334.4,1140.7 L336.1,1137.1 L338.0,1138.9 L339.9,1138.8 L341.7,1142.0 L343.6,1142.1 L346.1,1139.6 L348.6,1137.1 L350.6,1138.7 L352.6,1141.7 L354.5,1146.0 L356.5,1148.9 L358.5,1152.0 L360.2,1150.5 L361.9,1149.1 L363.6,1148.8 L365.4,1147.8 L367.1,1148.3 L368.8,1145.1 L370.5,1146.2 L372.2,1144.6 L374.3,1148.0 L376.3,1148.5 L378.4,1152.0 L380.9,1160.0 L383.4,1165.7 L385.4,1163.6 L387.4,1161.3 L389.3,1156.9 L391.3,1154.4 L393.3,1152.0 L395.1,1158.6 L397.0,1165.7 L398.9,1165.2 L400.7,1162.2 L402.6,1159.7 L404.5,1158.0 L406.3,1155.7 L408.2,1154.5 L410.1,1155.3 L412.1,1157.5 L414.0,1161.6 L416.0,1162.1 L417.9,1166.0 L419.9,1166.8 L421.9,1169.8 L423.9,1173.6 L425.9,1178.1 L427.9,1180.9 L429.9,1185.5 L431.1,1179.3 L433.1,1178.7 L435.1,1180.1 L437.1,1179.6 L439.1,1179.1 L441.1,1178.0 L443.0,1184.0 L444.8,1190.4 L446.6,1196.0 L448.5,1200.4 L451.0,1185.5 L452.7,1186.1 L454.5,1187.1 L456.2,1185.7 L458.0,1188.2 L459.7,1188.0 L461.5,1190.3 L463.4,1192.9 L465.4,1195.1 L467.4,1196.3 L469.4,1196.8 L471.4,1197.6 L473.4,1200.4 L475.2,1193.5 L477.1,1184.2 L479.0,1181.6 L480.8,1181.0 L482.6,1179.1 L484.5,1178.0 L486.4,1180.5 L488.3,1184.2 L490.3,1186.6 L492.3,1189.0 L494.2,1188.7 L496.2,1191.6 L498.2,1192.9 L499.9,1191.6 L501.7,1191.6 L503.4,1190.4 L505.2,1189.0 L506.9,1189.2 L509.4,1179.3 L511.5,1179.6 L513.5,1180.9 L515.6,1183.0 L517.7,1185.0 L519.7,1184.7 L521.8,1185.5 L523.7,1182.8 L525.5,1182.9 L527.4,1181.3 L529.3,1178.0 L531.1,1181.0 L533.0,1184.2 L535.5,1179.3 L538.0,1182.6 L540.4,1188.0 L542.3,1184.3 L544.1,1181.3 L546.0,1179.2 L547.9,1176.8 L549.8,1177.2 L551.6,1179.2 L553.4,1180.8 L555.3,1183.0 L556.6,1166.8 L558.3,1166.0 L560.1,1165.9 L561.8,1164.6 L563.6,1162.6 L565.3,1161.9 L567.8,1158.6 L570.2,1155.7 L572.1,1159.5 L574.0,1163.1 L575.9,1158.1 L577.7,1153.3 L579.5,1147.9 L581.4,1144.5 L583.3,1145.1 L585.1,1148.3 L587.0,1147.1 L588.9,1149.4 L591.4,1158.1 L593.9,1147.0 L595.8,1144.2 L597.6,1141.8 L599.4,1139.6 L601.3,1135.8 L603.2,1136.2 L605.0,1137.6 L606.9,1138.8 L608.8,1140.7 L611.2,1147.0 L613.2,1147.7 L615.2,1148.8 L617.2,1151.2 L619.2,1151.9 L621.2,1151.9 L623.7,1160.4 L626.1,1166.8 L628.2,1160.5 L630.3,1155.6 L632.4,1151.9 L633.6,1165.6 L635.5,1158.7 L637.3,1150.7 L639.2,1149.9 L641.0,1146.9 L642.9,1145.3 L644.8,1143.2 L646.9,1145.5 L648.9,1150.4 L651.0,1154.4 L653.5,1147.5 L656.0,1138.3 L658.1,1147.1 L660.1,1155.0 L662.2,1161.9 L664.3,1163.6 L666.3,1162.0 L668.4,1163.1 L670.2,1170.1 L672.1,1179.3 L674.0,1173.4 L675.9,1169.4 L677.7,1164.9 L679.6,1159.4 L681.5,1162.5 L683.3,1163.7 L685.1,1165.4 L687.0,1166.8 L688.7,1168.5 L690.5,1168.7 L692.2,1169.9 L694.0,1169.5 L695.7,1171.8 L697.8,1169.3 L699.8,1164.5 L701.9,1161.9 L703.9,1164.4 L706.0,1165.0 L708.0,1166.0 L709.9,1164.1 L711.8,1162.2 L713.7,1161.9 L715.7,1159.7 L717.7,1159.3 L719.7,1157.4 L721.5,1152.9 L723.3,1146.2 L725.0,1141.0 L726.8,1137.2 L728.6,1132.3 L730.4,1127.0 L732.2,1126.4 L734.0,1125.6 L735.9,1126.4 L737.7,1124.4 L739.5,1125.5 L741.3,1122.2 L743.1,1119.9 L745.0,1118.6 L746.8,1114.9 L748.6,1111.8 L750.5,1117.0 L752.4,1120.1 L754.3,1123.6 L756.2,1128.5 L758.5,1125.5 L760.7,1124.0 L762.5,1125.3 L764.3,1124.6 L766.2,1123.5 L768.0,1122.7 L769.8,1124.0 L772.1,1114.1 L774.4,1104.2 L776.2,1102.7 L777.9,1099.9 L779.7,1097.5 L781.5,1096.6 L783.2,1095.3 L785.0,1092.1 L788.1,1105.7 L790.1,1099.4 L792.1,1093.3 L794.1,1089.0 L796.1,1094.1 L798.2,1099.9 L800.2,1105.7 L802.1,1104.3 L804.0,1101.1 L805.9,1100.9 L807.8,1098.2 L810.0,1102.6 L812.3,1105.7 L815.4,1131.5 L818.4,1113.3 L820.3,1116.7 L822.2,1119.3 L824.1,1124.9 L826.0,1127.0 L827.7,1120.0 L829.5,1114.9 L831.2,1106.7 L833.0,1100.2 L834.7,1095.2 L836.5,1087.4 L838.2,1081.5 L841.2,1072.3 L843.5,1076.6 L845.7,1078.4 L847.7,1067.8 L849.8,1056.3 L851.8,1046.5 L854.8,1055.6 L856.4,1035.9 L858.2,1038.4 L859.9,1042.2 L861.7,1046.2 L863.5,1050.3 L865.2,1051.3 L867.0,1055.6 L869.0,1051.3 L871.1,1046.7 L873.1,1043.5 L875.4,1025.8 L877.6,1005.5 L879.4,1001.5 L881.2,998.2 L883.1,995.2 L884.9,993.1 L886.7,990.4 L888.2,1007.1 L890.0,1002.4 L891.9,996.6 L893.7,990.4 L895.6,985.4 L897.4,978.2 L899.6,982.5 L901.9,984.3 L903.6,987.2 L905.3,990.3 L907.0,995.8 L908.7,998.0 L910.7,993.0 L912.7,985.2 L914.6,981.3 L916.6,974.8 L918.6,969.4 L920.7,963.7 L922.7,958.2 L924.8,953.3 L926.7,956.7 L928.6,962.0 L930.7,970.1 L932.7,980.5 L934.8,990.6 L936.6,985.2 L938.5,981.9 L940.4,974.6 L942.2,970.7 L944.3,980.7 L946.3,987.3 L948.4,996.8 L950.9,990.8 L953.4,985.6 L955.5,991.9 L957.5,997.2 L959.6,1001.7 L961.5,995.3 L963.4,988.0 L965.2,983.0 L967.1,976.9 L969.1,974.6 L971.1,974.1 L973.0,970.1 L975.0,968.6 L977.0,967.0 L978.9,959.4 L980.7,949.6 L982.6,937.4 L984.5,927.6 L986.3,917.8 L988.2,906.1 L990.0,921.7 L991.9,935.9 L993.6,933.1 L995.4,931.6 L997.1,930.2 L998.9,931.1 L1000.6,928.4 L1003.1,955.8 L1004.8,952.6 L1006.6,951.5 L1008.3,949.5 L1010.1,945.4 L1011.8,943.4 L1013.6,963.2 L1015.5,984.3 L1017.2,987.1 L1019.0,987.6 L1020.7,988.1 L1022.5,990.9 L1024.2,991.8 L1026.7,957.0 L1028.4,961.0 L1030.2,965.3 L1031.9,969.1 L1033.7,975.6 L1035.4,979.4 L1037.1,979.1 L1038.9,976.8 L1040.6,976.1 L1042.4,972.1 L1044.1,971.9 L1046.2,979.9 L1048.2,989.2 L1050.3,998.0 L1052.3,998.5 L1054.3,997.8 L1056.2,995.5 L1058.2,994.3 L1060.2,994.3 L1062.1,1000.6 L1064.0,1007.3 L1065.8,1015.1 L1067.7,1020.4 L1070.2,1011.4 L1072.7,1004.2 L1075.2,990.6 L1077.3,993.9 L1079.3,996.2 L1081.4,998.0 L1083.4,998.4 L1085.4,997.8 L1087.3,996.8 L1089.3,995.5 L1091.3,995.5 L1093.2,987.5 L1095.1,980.0 L1097.0,972.9 L1098.7,969.4 L1100.5,963.1 L1102.2,959.1 L1103.9,955.6 L1106.5,960.6 L1109.0,964.2 L1110.7,959.7 L1112.5,955.4 L1114.2,951.6 L1116.0,949.2 L1117.7,945.3 L1119.4,941.4 L1121.1,939.7 L1122.9,936.0 L1124.6,932.8 L1126.3,928.0 L1128.0,925.0 L1129.7,922.2 L1131.4,920.0 L1133.2,918.8 L1134.9,917.1 L1136.6,914.2 L1138.3,912.9 L1140.1,911.2 L1141.8,910.5 L1143.5,909.9 L1145.3,908.9 L1147.0,907.3 L1148.7,901.1 L1150.5,894.5 L1152.2,886.6 L1153.9,878.4 L1155.6,868.3 L1157.4,861.7 L1159.1,851.5 L1160.8,843.5 L1162.5,862.5 L1164.2,868.2 L1165.9,873.1 L1167.7,879.7 L1169.4,883.7 L1171.1,890.0 L1172.8,877.8 L1174.6,866.3 L1176.3,855.5 L1178.0,853.7 L1179.8,854.9 L1181.5,853.2 L1183.2,851.6 L1185.0,851.0 L1186.7,850.4 L1190.1,840.0 L1191.8,841.0 L1193.5,839.2 L1195.3,838.0 L1197.0,838.3 L1198.7,809.0 L1200.4,809.9 L1202.2,809.4 L1203.9,810.4 L1205.6,809.0 L1207.3,820.5 L1209.1,834.2 L1210.8,846.9 L1212.5,843.9 L1214.2,840.1 L1216.0,836.4 L1217.7,831.4 L1219.4,827.8 L1221.2,826.2 L1222.9,824.5 L1224.6,820.0 L1226.3,816.7 L1228.1,815.5 L1229.8,810.7 L1231.5,817.8 L1233.2,824.5 L1233.2,862.5 L1234.9,862.4 L1236.7,859.5 L1238.4,859.6 L1240.1,857.3 L1241.9,883.2 L1244.5,872.7 L1247.0,862.5 L1248.7,866.4 L1250.5,872.5 L1252.2,876.3 L1253.9,878.6 L1255.6,877.2 L1257.4,879.6 L1259.1,880.7 L1260.8,881.4 L1262.5,876.3 L1264.3,872.8 L1266.0,888.0 L1267.7,903.9 L1269.4,899.4 L1271.2,896.1 L1272.9,893.5 L1274.6,900.3 L1276.4,908.7 L1278.1,915.9 L1279.8,908.6 L1281.5,900.4" fill="none" stroke="#0f5091" stroke-width="4.3" stroke-linejoin="miter" stroke-miterlimit="2"/>
<line x1="723" y1="1202" x2="1198" y2="982.5" stroke="#20aedd" stroke-width="3"/>
<polygon points="1213,977 1193.7,978.3 1199.7,991.5" fill="#20aedd"/>
<line x1="418" y1="728" x2="479" y2="728" stroke="#0f5091" stroke-width="4.2"/>
<line x1="700.6" y1="728" x2="761.8" y2="728" stroke="#c3bda0" stroke-width="4.2"/>
<text id="lg1" x="488" y="736.5" class="lg">10Y美债收益率，%</text>
<text id="lg2" x="768.8" y="736.5" class="lg">美元指数，点，右轴</text>
<line x1="1535" y1="1007.2" x2="2773" y2="1007.2" stroke="#d9d9d9" stroke-width="3"/>
<rect x="1549.2" y="998.9" width="13.2" height="8.3" fill="#03579a"/>
<text x="1555.8" y="979.4" text-anchor="middle" class="vl">2.1</text>
<text transform="translate(1555.8,1184) rotate(-90)" text-anchor="end" dominant-baseline="central" class="ct">红利指数</text>
<rect x="1591.9" y="1007.2" width="13.2" height="46.9" fill="#03579a"/>
<text x="1598.5" y="1089.6" text-anchor="middle" class="vl">-11.9</text>
<text transform="translate(1598.5,1184) rotate(-90)" text-anchor="end" dominant-baseline="central" class="ct">上证指数</text>
<rect x="1634.6" y="1007.2" width="13.2" height="59.1" fill="#03579a"/>
<text x="1641.2" y="1101.8" text-anchor="middle" class="vl">-15.0</text>
<text transform="translate(1641.2,1184) rotate(-90)" text-anchor="end" dominant-baseline="central" class="ct">万得全A</text>
<rect x="1677.2" y="1007.2" width="13.2" height="62.6" fill="#03579a"/>
<text x="1683.8" y="1105.3" text-anchor="middle" class="vl">-15.9</text>
<text transform="translate(1683.8,1184) rotate(-90)" text-anchor="end" dominant-baseline="central" class="ct">中证500</text>
<rect x="1719.9" y="1007.2" width="13.2" height="65.4" fill="#03579a"/>
<text x="1726.5" y="1108.1" text-anchor="middle" class="vl">-16.6</text>
<text transform="translate(1726.5,1184) rotate(-90)" text-anchor="end" dominant-baseline="central" class="ct">中证1000</text>
<rect x="1762.6" y="1007.2" width="13.2" height="75.3" fill="#03579a"/>
<text x="1769.2" y="1118.0" text-anchor="middle" class="vl">-19.1</text>
<text transform="translate(1769.2,1184) rotate(-90)" text-anchor="end" dominant-baseline="central" class="ct">沪深300</text>
<rect x="1805.3" y="1007.2" width="13.2" height="106.8" fill="#03579a"/>
<text x="1811.9" y="1149.5" text-anchor="middle" class="vl">-27.1</text>
<text transform="translate(1811.9,1184) rotate(-90)" text-anchor="end" dominant-baseline="central" class="ct">创业板指</text>
<rect x="1848.0" y="1007.2" width="13.2" height="111.9" fill="#03579a"/>
<text x="1854.6" y="1154.6" text-anchor="middle" class="vl">-28.4</text>
<text transform="translate(1854.6,1184) rotate(-90)" text-anchor="end" dominant-baseline="central" class="ct">科创50</text>
<rect x="1890.6" y="980.8" width="13.2" height="26.4" fill="#c00000"/>
<text x="1897.2" y="961.3" text-anchor="middle" class="vl">6.7</text>
<text transform="translate(1897.2,1184) rotate(-90)" text-anchor="end" dominant-baseline="central" class="ct">印度SENSEX30</text>
<rect x="1933.3" y="1002.5" width="13.2" height="4.7" fill="#c00000"/>
<text x="1939.9" y="983.0" text-anchor="middle" class="vl">1.2</text>
<text transform="translate(1939.9,1184) rotate(-90)" text-anchor="end" dominant-baseline="central" class="ct">英国富时100</text>
<rect x="1976.0" y="1007.2" width="13.2" height="12.2" fill="#c00000"/>
<text x="1982.6" y="1054.9" text-anchor="middle" class="vl">-3.1</text>
<text transform="translate(1982.6,1184) rotate(-90)" text-anchor="end" dominant-baseline="central" class="ct">日经225</text>
<rect x="2018.7" y="1007.2" width="13.2" height="31.1" fill="#c00000"/>
<text x="2025.3" y="1073.8" text-anchor="middle" class="vl">-7.9</text>
<text transform="translate(2025.3,1184) rotate(-90)" text-anchor="end" dominant-baseline="central" class="ct">道琼斯工业指数</text>
<rect x="2061.4" y="1007.2" width="13.2" height="37.4" fill="#c00000"/>
<text x="2068.0" y="1080.1" text-anchor="middle" class="vl">-9.5</text>
<text transform="translate(2068.0,1184) rotate(-90)" text-anchor="end" dominant-baseline="central" class="ct">德国DAX</text>
<rect x="2104.0" y="1007.2" width="13.2" height="58.7" fill="#c00000"/>
<text x="2110.6" y="1101.4" text-anchor="middle" class="vl">-14.9</text>
<text transform="translate(2110.6,1184) rotate(-90)" text-anchor="end" dominant-baseline="central" class="ct">恒生指数</text>
<rect x="2146.7" y="1007.2" width="13.2" height="69.0" fill="#c00000"/>
<text x="2153.3" y="1111.7" text-anchor="middle" class="vl">-17.5</text>
<text transform="translate(2153.3,1184) rotate(-90)" text-anchor="end" dominant-baseline="central" class="ct">标普500</text>
<rect x="2189.4" y="1007.2" width="13.2" height="76.0" fill="#c00000"/>
<text x="2196.0" y="1118.7" text-anchor="middle" class="vl">-19.3</text>
<text transform="translate(2196.0,1184) rotate(-90)" text-anchor="end" dominant-baseline="central" class="ct">台湾加权指数</text>
<rect x="2232.1" y="1007.2" width="13.2" height="117.0" fill="#c00000"/>
<text x="2238.7" y="1159.7" text-anchor="middle" class="vl">-29.7</text>
<text transform="translate(2238.7,1184) rotate(-90)" text-anchor="end" dominant-baseline="central" class="ct">纳斯达克指数</text>
<rect x="2274.8" y="1007.2" width="13.2" height="122.5" fill="#c00000"/>
<text x="2281.4" y="1165.2" text-anchor="middle" class="vl">-31.1</text>
<text transform="translate(2281.4,1184) rotate(-90)" text-anchor="end" dominant-baseline="central" class="ct">俄罗斯RTS</text>
<rect x="2317.4" y="933.5" width="13.2" height="73.7" fill="#c5bd99"/>
<text x="2324.0" y="914.0" text-anchor="middle" class="vl">18.7</text>
<text transform="translate(2324.0,1184) rotate(-90)" text-anchor="end" dominant-baseline="central" class="ct">美元兑日元</text>
<rect x="2360.1" y="970.6" width="13.2" height="36.6" fill="#c5bd99"/>
<text x="2366.7" y="951.1" text-anchor="middle" class="vl">9.3</text>
<text transform="translate(2366.7,1184) rotate(-90)" text-anchor="end" dominant-baseline="central" class="ct">美元指数</text>
<rect x="2402.8" y="971.7" width="13.2" height="35.5" fill="#c5bd99"/>
<text x="2409.4" y="952.2" text-anchor="middle" class="vl">9.0</text>
<text transform="translate(2409.4,1184) rotate(-90)" text-anchor="end" dominant-baseline="central" class="ct">美元兑人民币(CFETS)</text>
<rect x="2445.5" y="1007.2" width="13.2" height="29.2" fill="#c5bd99"/>
<text x="2452.1" y="1071.9" text-anchor="middle" class="vl">-7.4</text>
<text transform="translate(2452.1,1184) rotate(-90)" text-anchor="end" dominant-baseline="central" class="ct">欧元兑美元</text>
<rect x="2488.2" y="1007.2" width="13.2" height="37.0" fill="#c5bd99"/>
<text x="2494.8" y="1079.7" text-anchor="middle" class="vl">-9.4</text>
<text transform="translate(2494.8,1184) rotate(-90)" text-anchor="end" dominant-baseline="central" class="ct">英镑兑美元</text>
<rect x="2530.8" y="853.5" width="13.2" height="153.7" fill="#00b0f0"/>
<text transform="translate(2537.4,1184) rotate(-90)" text-anchor="end" dominant-baseline="central" class="ct">LME镍</text>
<rect x="2573.5" y="1007.2" width="13.2" height="3.9" fill="#00b0f0"/>
<text x="2580.1" y="1046.6" text-anchor="middle" class="vl">-1.0</text>
<text transform="translate(2580.1,1184) rotate(-90)" text-anchor="end" dominant-baseline="central" class="ct">COMEX黄金</text>
<rect x="2616.2" y="1007.2" width="13.2" height="4.7" fill="#00b0f0"/>
<text x="2622.8" y="1047.4" text-anchor="middle" class="vl">-1.2</text>
<text transform="translate(2622.8,1184) rotate(-90)" text-anchor="end" dominant-baseline="central" class="ct">ICE布油</text>
<rect x="2658.9" y="1007.2" width="13.2" height="18.9" fill="#00b0f0"/>
<text x="2665.5" y="1061.6" text-anchor="middle" class="vl">-4.8</text>
<text transform="translate(2665.5,1184) rotate(-90)" text-anchor="end" dominant-baseline="central" class="ct">NYMEX WTI原油</text>
<rect x="2701.6" y="1007.2" width="13.2" height="47.3" fill="#00b0f0"/>
<text x="2708.2" y="1090.0" text-anchor="middle" class="vl">-12.0</text>
<text transform="translate(2708.2,1184) rotate(-90)" text-anchor="end" dominant-baseline="central" class="ct">LME铝</text>
<rect x="2744.2" y="1007.2" width="13.2" height="50.0" fill="#00b0f0"/>
<text x="2750.8" y="1092.7" text-anchor="middle" class="vl">-12.7</text>
<text transform="translate(2750.8,1184) rotate(-90)" text-anchor="end" dominant-baseline="central" class="ct">LME铜</text>
<text x="1517" y="820.2" text-anchor="end" class="ry">50.0</text>
<text x="1517" y="859.6" text-anchor="end" class="ry">40.0</text>
<text x="1517" y="899.0" text-anchor="end" class="ry">30.0</text>
<text x="1517" y="938.4" text-anchor="end" class="ry">20.0</text>
<text x="1517" y="977.8" text-anchor="end" class="ry">10.0</text>
<text x="1517" y="1017.2" text-anchor="end" class="ry">0.0</text>
<text x="1517" y="1056.6" text-anchor="end" class="ry">-10.0</text>
<text x="1517" y="1096.0" text-anchor="end" class="ry">-20.0</text>
<text x="1517" y="1135.4" text-anchor="end" class="ry">-30.0</text>
<text x="1517" y="1174.8" text-anchor="end" class="ry">-40.0</text>
<rect x="1548" y="783.8" width="286.3" height="51.5" fill="#03579a"/>
<text x="1691.2" y="820.0" text-anchor="middle" class="bx">A股市场</text>
<rect x="1870.7" y="786.8" width="398.4" height="48.5" fill="#c00000"/>
<text x="2069.9" y="821.5" text-anchor="middle" class="bx">海外和港股市场</text>
<rect x="2287.9" y="786.8" width="209.4" height="48.5" fill="#c5bd99"/>
<text x="2392.6" y="821.5" text-anchor="middle" class="bx">外汇</text>
<rect x="2511" y="783.8" width="263.5" height="51.5" fill="#00b0f0"/>
<text x="2642.8" y="820.0" text-anchor="middle" class="bx">商品</text>
<text id="sub" x="1758" y="756.5" class="sb">2022年全球股市、外汇和商品市场涨跌幅表现，%</text>
</svg>

<div id="src" class="abs">资料来源：万得</div>

<div class="panel" style="left:2364px;top:1478px;width:502px;height:128px;"></div>
<svg id="logo" style="position:absolute;left:0;top:0" width="2866" height="1612" viewBox="0 0 2866 1612"><g fill="#0c4a9c"><path d="M2477.1,1494.3 L2476.2,1493.9 L2475.2,1493.4 L2474.1,1492.8 L2472.7,1492.1 L2471.2,1491.4 L2469.6,1490.7 L2467.9,1490.0 L2466.0,1489.4 L2464.1,1488.9 L2462.1,1488.5 L2460.1,1488.2 L2458.0,1488.0 L2455.9,1487.8 L2453.6,1487.6 L2451.2,1487.5 L2448.8,1487.5 L2446.3,1487.6 L2443.7,1487.9 L2441.1,1488.2 L2438.4,1488.7 L2435.8,1489.3 L2433.1,1490.0 L2430.3,1490.7 L2427.4,1491.6 L2424.5,1492.6 L2421.5,1493.8 L2418.5,1495.1 L2415.6,1496.6 L2412.8,1498.4 L2410.1,1500.3 L2407.6,1502.5 L2405.2,1504.8 L2402.8,1507.3 L2400.6,1510.0 L2398.5,1512.8 L2396.5,1515.7 L2394.7,1518.7 L2393.2,1521.8 L2391.9,1525.0 L2390.9,1528.2 L2390.4,1531.5 L2390.2,1534.8 L2390.3,1538.0 L2390.7,1541.2 L2391.4,1544.3 L2392.4,1547.4 L2393.6,1550.3 L2395.0,1553.2 L2396.8,1555.9 L2398.8,1558.4 L2401.2,1560.8 L2403.8,1563.0 L2406.6,1564.9 L2409.5,1566.6 L2412.6,1568.1 L2415.6,1569.5 L2418.8,1570.7 L2421.8,1571.8 L2424.9,1572.8 L2427.9,1573.7 L2430.9,1574.5 L2434.0,1575.1 L2437.0,1575.5 L2440.1,1575.9 L2443.1,1576.1 L2446.2,1576.2 L2449.2,1576.2 L2452.3,1576.2 L2455.3,1576.1 L2458.4,1576.0 L2461.5,1575.8 L2464.8,1575.7 L2468.3,1575.4 L2471.8,1575.1 L2475.4,1574.7 L2479.0,1574.2 L2482.6,1573.6 L2486.2,1572.8 L2489.7,1571.8 L2493.1,1570.7 L2496.3,1569.3 L2499.3,1567.7 L2502.3,1566.1 L2505.2,1564.2 L2508.0,1562.2 L2510.6,1560.1 L2513.1,1557.9 L2515.4,1555.6 L2517.4,1553.1 L2519.2,1550.4 L2520.8,1547.6 L2522.0,1544.6 L2522.9,1541.6 L2523.5,1538.5 L2523.8,1535.5 L2523.9,1532.4 L2523.7,1529.4 L2523.2,1526.4 L2522.4,1523.5 L2521.3,1520.6 L2519.7,1517.9 L2517.7,1515.6 L2515.6,1513.5 L2513.3,1511.7 L2510.9,1510.1 L2508.5,1508.7 L2506.0,1507.4 L2503.4,1506.3 L2500.9,1505.3 L2498.3,1504.4 L2495.5,1503.6 L2492.6,1503.0 L2489.7,1502.5 L2486.8,1502.2 L2483.8,1502.0 L2480.9,1501.8 L2478.1,1501.8 L2475.3,1501.7 L2472.6,1501.7 L2470.0,1501.8 L2467.3,1501.8 L2464.7,1501.9 L2462.0,1502.0 L2459.3,1502.2 L2456.7,1502.5 L2454.1,1502.8 L2451.6,1503.1 L2449.1,1503.5 L2446.7,1503.9 L2444.4,1504.4 L2442.2,1505.0 L2440.0,1505.7 L2437.9,1506.4 L2435.9,1507.2 L2434.0,1508.0 L2432.2,1508.8 L2430.5,1509.7 L2428.9,1510.6 L2427.4,1511.6 L2426.0,1512.6 L2424.5,1513.9 L2423.1,1515.4 L2422.1,1516.9 L2421.3,1518.4 L2420.7,1519.7 L2420.3,1520.9 L2420.0,1521.9 L2419.8,1522.7 L2419.7,1523.0 L2419.7,1523.2 L2430.3,1528.8 L2430.7,1528.0 L2431.2,1527.1 L2431.6,1526.4 L2431.9,1525.7 L2432.3,1525.2 L2432.6,1524.7 L2433.0,1524.2 L2433.3,1523.9 L2433.6,1523.7 L2434.0,1523.4 L2434.8,1522.9 L2435.8,1522.3 L2437.0,1521.7 L2438.3,1521.0 L2439.6,1520.3 L2441.1,1519.7 L2442.6,1519.1 L2444.2,1518.5 L2445.9,1518.0 L2447.6,1517.6 L2449.4,1517.2 L2451.4,1516.8 L2453.5,1516.4 L2455.8,1516.1 L2458.1,1515.9 L2460.4,1515.6 L2462.8,1515.5 L2465.2,1515.3 L2467.6,1515.3 L2470.0,1515.2 L2472.5,1515.3 L2475.1,1515.3 L2477.8,1515.3 L2480.4,1515.4 L2482.9,1515.6 L2485.4,1515.8 L2487.8,1516.1 L2489.9,1516.5 L2491.9,1517.0 L2493.7,1517.6 L2495.6,1518.4 L2497.5,1519.3 L2499.3,1520.3 L2501.0,1521.4 L2502.6,1522.5 L2503.9,1523.6 L2505.0,1524.7 L2505.9,1525.7 L2506.4,1526.6 L2506.7,1527.4 L2507.0,1528.2 L2507.2,1529.4 L2507.3,1530.8 L2507.3,1532.4 L2507.2,1534.0 L2506.9,1535.7 L2506.5,1537.4 L2506.0,1538.9 L2505.4,1540.3 L2504.8,1541.6 L2503.9,1542.8 L2502.7,1544.3 L2501.3,1545.8 L2499.6,1547.3 L2497.7,1548.9 L2495.7,1550.4 L2493.6,1551.8 L2491.4,1553.1 L2489.1,1554.3 L2486.9,1555.3 L2484.7,1556.2 L2482.1,1556.9 L2479.4,1557.6 L2476.4,1558.2 L2473.3,1558.6 L2470.2,1559.0 L2466.9,1559.4 L2463.8,1559.6 L2460.6,1559.8 L2457.6,1560.0 L2454.7,1560.1 L2451.9,1560.2 L2449.2,1560.3 L2446.6,1560.3 L2444.0,1560.2 L2441.5,1560.0 L2439.1,1559.7 L2436.7,1559.4 L2434.4,1558.9 L2432.1,1558.3 L2429.7,1557.5 L2427.2,1556.7 L2424.6,1555.7 L2422.1,1554.6 L2419.7,1553.5 L2417.4,1552.3 L2415.4,1551.1 L2413.7,1549.9 L2412.3,1548.7 L2411.2,1547.6 L2410.3,1546.4 L2409.4,1545.0 L2408.6,1543.4 L2408.0,1541.8 L2407.5,1540.1 L2407.1,1538.3 L2406.9,1536.6 L2406.8,1534.9 L2406.9,1533.3 L2407.1,1531.8 L2407.5,1530.2 L2408.1,1528.4 L2409.1,1526.3 L2410.3,1524.1 L2411.7,1521.8 L2413.2,1519.6 L2414.9,1517.4 L2416.6,1515.3 L2418.3,1513.4 L2419.9,1511.7 L2421.5,1510.2 L2423.3,1508.7 L2425.3,1507.3 L2427.5,1506.0 L2429.8,1504.7 L2432.2,1503.5 L2434.6,1502.3 L2437.0,1501.2 L2439.3,1500.2 L2441.6,1499.3 L2443.7,1498.4 L2445.7,1497.7 L2447.8,1497.1 L2449.9,1496.6 L2452.0,1496.1 L2454.1,1495.7 L2456.1,1495.3 L2458.1,1495.0 L2460.1,1494.7 L2461.9,1494.5 L2463.6,1494.3 L2465.4,1494.2 L2467.1,1494.2 L2468.8,1494.2 L2470.5,1494.3 L2472.1,1494.4 L2473.6,1494.5 L2474.9,1494.6 L2476.0,1494.7 L2476.9,1494.7 Z"/><path d="M2423.3,1521 L2443.8,1523.5 L2458.9,1533.1 L2477.9,1522 Q2482,1520.5 2486,1523.5 L2489.3,1527.5 Q2490.5,1532 2487,1534.6 L2463.5,1549.1 Q2458.2,1552 2452.9,1549.1 L2425.5,1533.1 Q2421.5,1530 2422.9,1525 Z"/></g>
<text id="lgcn" x="2541" y="1544" font-size="58" font-weight="900" fill="#0c4a9c" letter-spacing="11.7" style='font-family:"Noto Serif CJK SC",serif'>兴业基金</text>
<text id="lgen" x="2544" y="1571.5" font-size="15" font-weight="700" fill="#1f4f8f" letter-spacing="0.5" style='font-family:"Liberation Serif",serif'>CIB FUND MANAGEMENT CO.,LTD.</text>
</svg>



</body></html>
